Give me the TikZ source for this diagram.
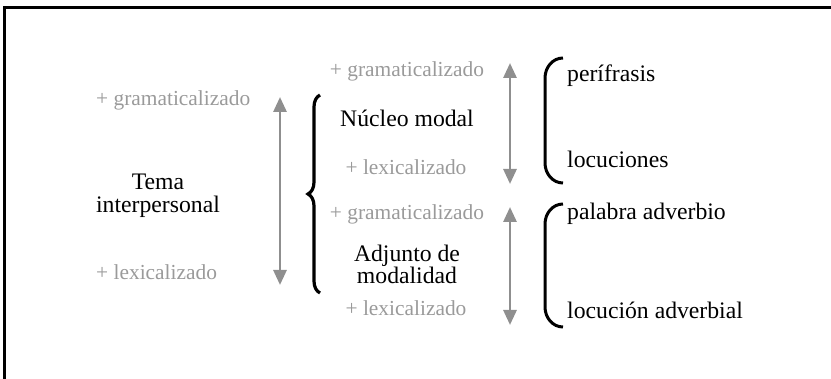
\documentclass[tikz,border=0pt]{standalone}
\usepackage{fontspec}
\setmainfont{Liberation Serif}
\usetikzlibrary{arrows.meta,decorations.pathreplacing}
\definecolor{lightgr}{HTML}{9A9A9A}
\definecolor{arrgr}{HTML}{8F8F8F}
\tikzset{
  graytxt/.style={text=lightgr,font=\fontsize{21.4}{24}\selectfont,inner sep=0pt},
  blacktxt/.style={text=black,font=\fontsize{23.7}{26}\selectfont,inner sep=0pt},
  grayarrow/.style={draw=arrgr,line width=2.8pt,{Triangle[width=13pt,length=15pt]}-{Triangle[width=13pt,length=15pt]}},
  bigbrace/.style={draw=black,line width=3.2pt,decorate,decoration={brace,amplitude=12pt}},
  paren/.style={draw=black,line width=3pt},
  frameline/.style={draw=black,line width=2.2pt}
}
\begin{document}
\begin{tikzpicture}[x=1pt,y=-1pt]
\useasboundingbox (0,0) rectangle (831,379);
% frame (top and left lines only)
\coordinate (f1) at (4.5,379);
\coordinate (f2) at (4.5,7.5);
\coordinate (f3) at (831,7.5);
\draw[frameline] (f1) -- (f2) -- (f3);

% left column
\node[graytxt,anchor=base west] (lg) at (96,106) {+ gramaticalizado};
\node[blacktxt,anchor=base] (tema) at (158,190) {Tema};
\node[blacktxt,anchor=base] (inter) at (158,213) {interpersonal};
\node[graytxt,anchor=base west] (ll) at (96,280) {+ lexicalizado};

\coordinate (la1) at (280,97);
\coordinate (la2) at (280,285);
\draw[grayarrow] (la1) -- (la2);

\coordinate (b1) at (320,293);
\coordinate (b2) at (320,95);
\draw[bigbrace] (b1) -- (b2);

% middle column
\node[graytxt,anchor=base] (mg1) at (407,77) {+ gramaticalizado};
\node[blacktxt,anchor=base] (nucleo) at (407,127) {Núcleo modal};
\node[graytxt,anchor=base] (ml1) at (406,175) {+ lexicalizado};

\node[graytxt,anchor=base] (mg2) at (407,220) {+ gramaticalizado};
\node[blacktxt,anchor=base] (adj) at (407,262) {Adjunto de};
\node[blacktxt,anchor=base] (moda) at (407,284) {modalidad};
\node[graytxt,anchor=base] (ml2) at (406,316) {+ lexicalizado};

\coordinate (ma1) at (510,63);
\coordinate (ma2) at (510,184);
\draw[grayarrow] (ma1) -- (ma2);
\coordinate (ma3) at (510,207);
\coordinate (ma4) at (510,325);
\draw[grayarrow] (ma3) -- (ma4);

% right parentheses
\coordinate (p1) at (563,58);
\coordinate (p2) at (563,183);
\draw[paren] (p1) to[out=180,in=90] (545,78) -- (545,163) to[out=-90,in=180] (p2);
\coordinate (p3) at (563,204);
\coordinate (p4) at (563,327);
\draw[paren] (p3) to[out=180,in=90] (545,224) -- (545,307) to[out=-90,in=180] (p4);

% right column
\node[blacktxt,anchor=base west] (peri) at (567,82) {perífrasis};
\node[blacktxt,anchor=base west] (locs) at (567,168) {locuciones};
\node[blacktxt,anchor=base west] (pal) at (567,220) {palabra adverbio};
\node[blacktxt,anchor=base west] (loca) at (567,319) {locución adverbial};
\end{tikzpicture}
\end{document}
